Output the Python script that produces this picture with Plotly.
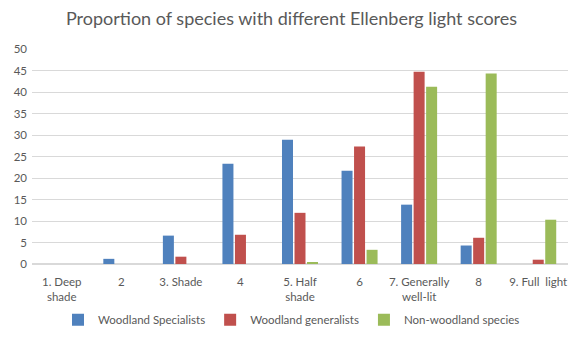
import plotly.graph_objects as go

categories = ["1. Deep<br>shade", "2", "3. Shade", "4", "5. Half<br>shade", "6",
              "7. Generally<br>well-lit", "8", "9. Full  light"]
series_names = ["Woodland Specialists", "Woodland generalists", "Non-woodland species"]
specialists = [0, 1.2, 6.6, 23.3, 28.9, 21.7, 13.8, 4.3, 0]
generalists = [0, 0, 1.7, 6.8, 11.9, 27.3, 44.7, 6.1, 1.0]
non_woodland = [0, 0, 0, 0, 0.3, 3.3, 41.2, 44.3, 10.3]
colors = ["#4f81bd", "#c0504d", "#9bbb59"]

fig = go.Figure()
for name, vals, c in zip(series_names, [specialists, generalists, non_woodland], colors):
    fig.add_trace(go.Bar(x=categories, y=vals, name=name, marker_color=c, marker_line_width=0))

font_family = "Lato, 'Open Sans', sans-serif"
fig.update_layout(
    width=583, height=341,
    margin=dict(l=32, r=15, t=49, b=77),
    paper_bgcolor="white", plot_bgcolor="white",
    barmode="group", bargap=0.37, bargroupgap=0.12,
    title=dict(text="Proportion of species with different Ellenberg light scores",
               x=0.5, xanchor="center", y=0.945, yanchor="middle",
               font=dict(family=font_family, size=18, color="#595959")),
    font=dict(family=font_family, size=11.5, color="#595959"),
    legend=dict(orientation="h", x=0.5, xanchor="center", xref="container",
                y=0.062, yanchor="middle", yref="container",
                font=dict(size=11.5, color="#595959"), itemwidth=30),
    showlegend=True,
)
fig.update_yaxes(range=[0, 50], dtick=5, showgrid=True, gridcolor="#d9d9d9", gridwidth=1,
                 zeroline=True, zerolinecolor="#d9d9d9", showline=False, automargin=False,
                 tickfont=dict(size=11.5, color="#595959"), ticks="", ticklabelstandoff=4)
fig.update_xaxes(showgrid=False, showline=True, linecolor="#d9d9d9", ticks="", automargin=False,
                 tickfont=dict(size=11.5, color="#595959"), tickangle=0, ticklabelstandoff=7)

fig.write_html("out.html")
